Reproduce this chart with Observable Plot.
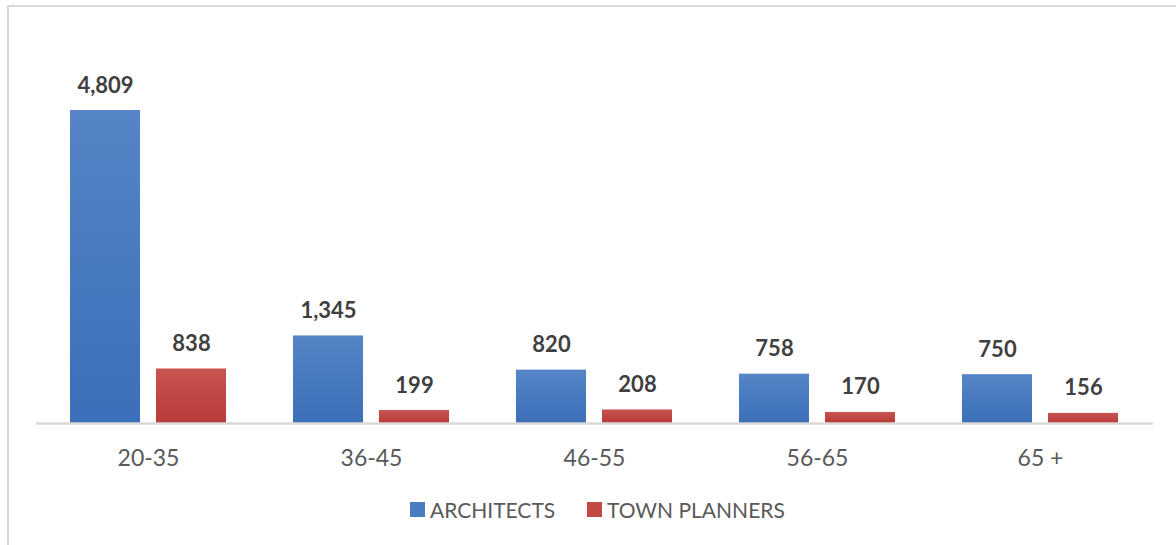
<!DOCTYPE html>
<html>
<head>
<meta charset="utf-8">
<script src="https://cdn.jsdelivr.net/npm/d3@7"></script>
<script src="https://cdn.jsdelivr.net/npm/@observablehq/plot@0.6"></script>
<style>
  html, body { margin: 0; padding: 0; background: #fff; }
  body { width: 1176px; height: 545px; position: relative; overflow: hidden; font-family: Lato, "Open Sans", sans-serif; }
  #frame { position: absolute; left: 7px; top: 5px; width: 1200px; height: 600px; border-left: 2px solid #d9d9d9; border-top: 2px solid #d9d9d9; box-sizing: border-box; }
  #chart { position: absolute; left: 0; top: 0; }
  #legend { position: absolute; top: 496px; left: 0; width: 1176px; height: 26px; font-size: 21px; color: #595959; }
  .item { position: absolute; top: 0; display: flex; align-items: center; height: 26px; }
  .sw { width: 15px; height: 15px; margin-right: 5px; }
</style>
</head>
<body>
<div id="frame"></div>
<div id="chart"></div>
<div id="legend"></div>
<script>
const categories = ["20-35", "36-45", "46-55", "56-65", "65 +"];
const architects = [4809, 1345, 820, 758, 750];
const townPlanners = [838, 199, 208, 170, 156];
const seriesNames = ["ARCHITECTS", "TOWN PLANNERS"];

const archData = categories.map((c, i) => ({category: c, value: architects[i]}));
const tpData = categories.map((c, i) => ({category: c, value: townPlanners[i]}));
const fmt = d3.format(",");

const plot = Plot.plot({
  width: 1176,
  height: 470,
  marginLeft: 36,
  marginRight: 23,
  marginTop: 32.5,
  marginBottom: 47,
  style: {fontFamily: "Lato, 'Open Sans', sans-serif", background: "transparent"},
  x: {domain: categories, paddingInner: 0.3, paddingOuter: 0.15, label: null},
  y: {domain: [0, 6000], axis: null},
  marks: [
    Plot.barY(archData, {x: "category", y: "value", fill: "url(#gradBlue)", insetRight: 86}),
    Plot.barY(tpData, {x: "category", y: "value", fill: "url(#gradRed)", insetLeft: 86}),
    Plot.ruleY([0], {stroke: "#d9d9d9", strokeWidth: 2.5}),
    Plot.text(archData, {x: "category", y: "value", text: d => fmt(d.value), dx: -43, dy: -25, fontSize: 22, fontWeight: "bold", fill: "#404040"}),
    Plot.text(tpData, {x: "category", y: "value", text: d => fmt(d.value), dx: 43, dy: -25, fontSize: 22, fontWeight: "bold", fill: "#404040"}),
    Plot.axisX({tickSize: 0, tickPadding: 26, fontSize: 23, fill: "#595959", label: null})
  ]
});

const svgNS = "http://www.w3.org/2000/svg";
const defs = document.createElementNS(svgNS, "defs");
defs.innerHTML = `
  <linearGradient id="gradBlue" x1="0" y1="0" x2="0" y2="1">
    <stop offset="0" stop-color="#5585c6"/>
    <stop offset="1" stop-color="#3c6fb9"/>
  </linearGradient>
  <linearGradient id="gradRed" x1="0" y1="0" x2="0" y2="1">
    <stop offset="0" stop-color="#c85450"/>
    <stop offset="1" stop-color="#b83b38"/>
  </linearGradient>`;
plot.insertBefore(defs, plot.firstChild);
document.getElementById("chart").appendChild(plot);

const legend = document.getElementById("legend");
const colors = ["#4a7cc2", "#c34945"];
const lefts = [410, 587];
seriesNames.forEach((name, i) => {
  const item = document.createElement("div");
  item.className = "item";
  item.style.left = lefts[i] + "px";
  item.innerHTML = `<div class="sw" style="background:${colors[i]}"></div><span>${name}</span>`;
  legend.appendChild(item);
});
</script>
</body>
</html>
